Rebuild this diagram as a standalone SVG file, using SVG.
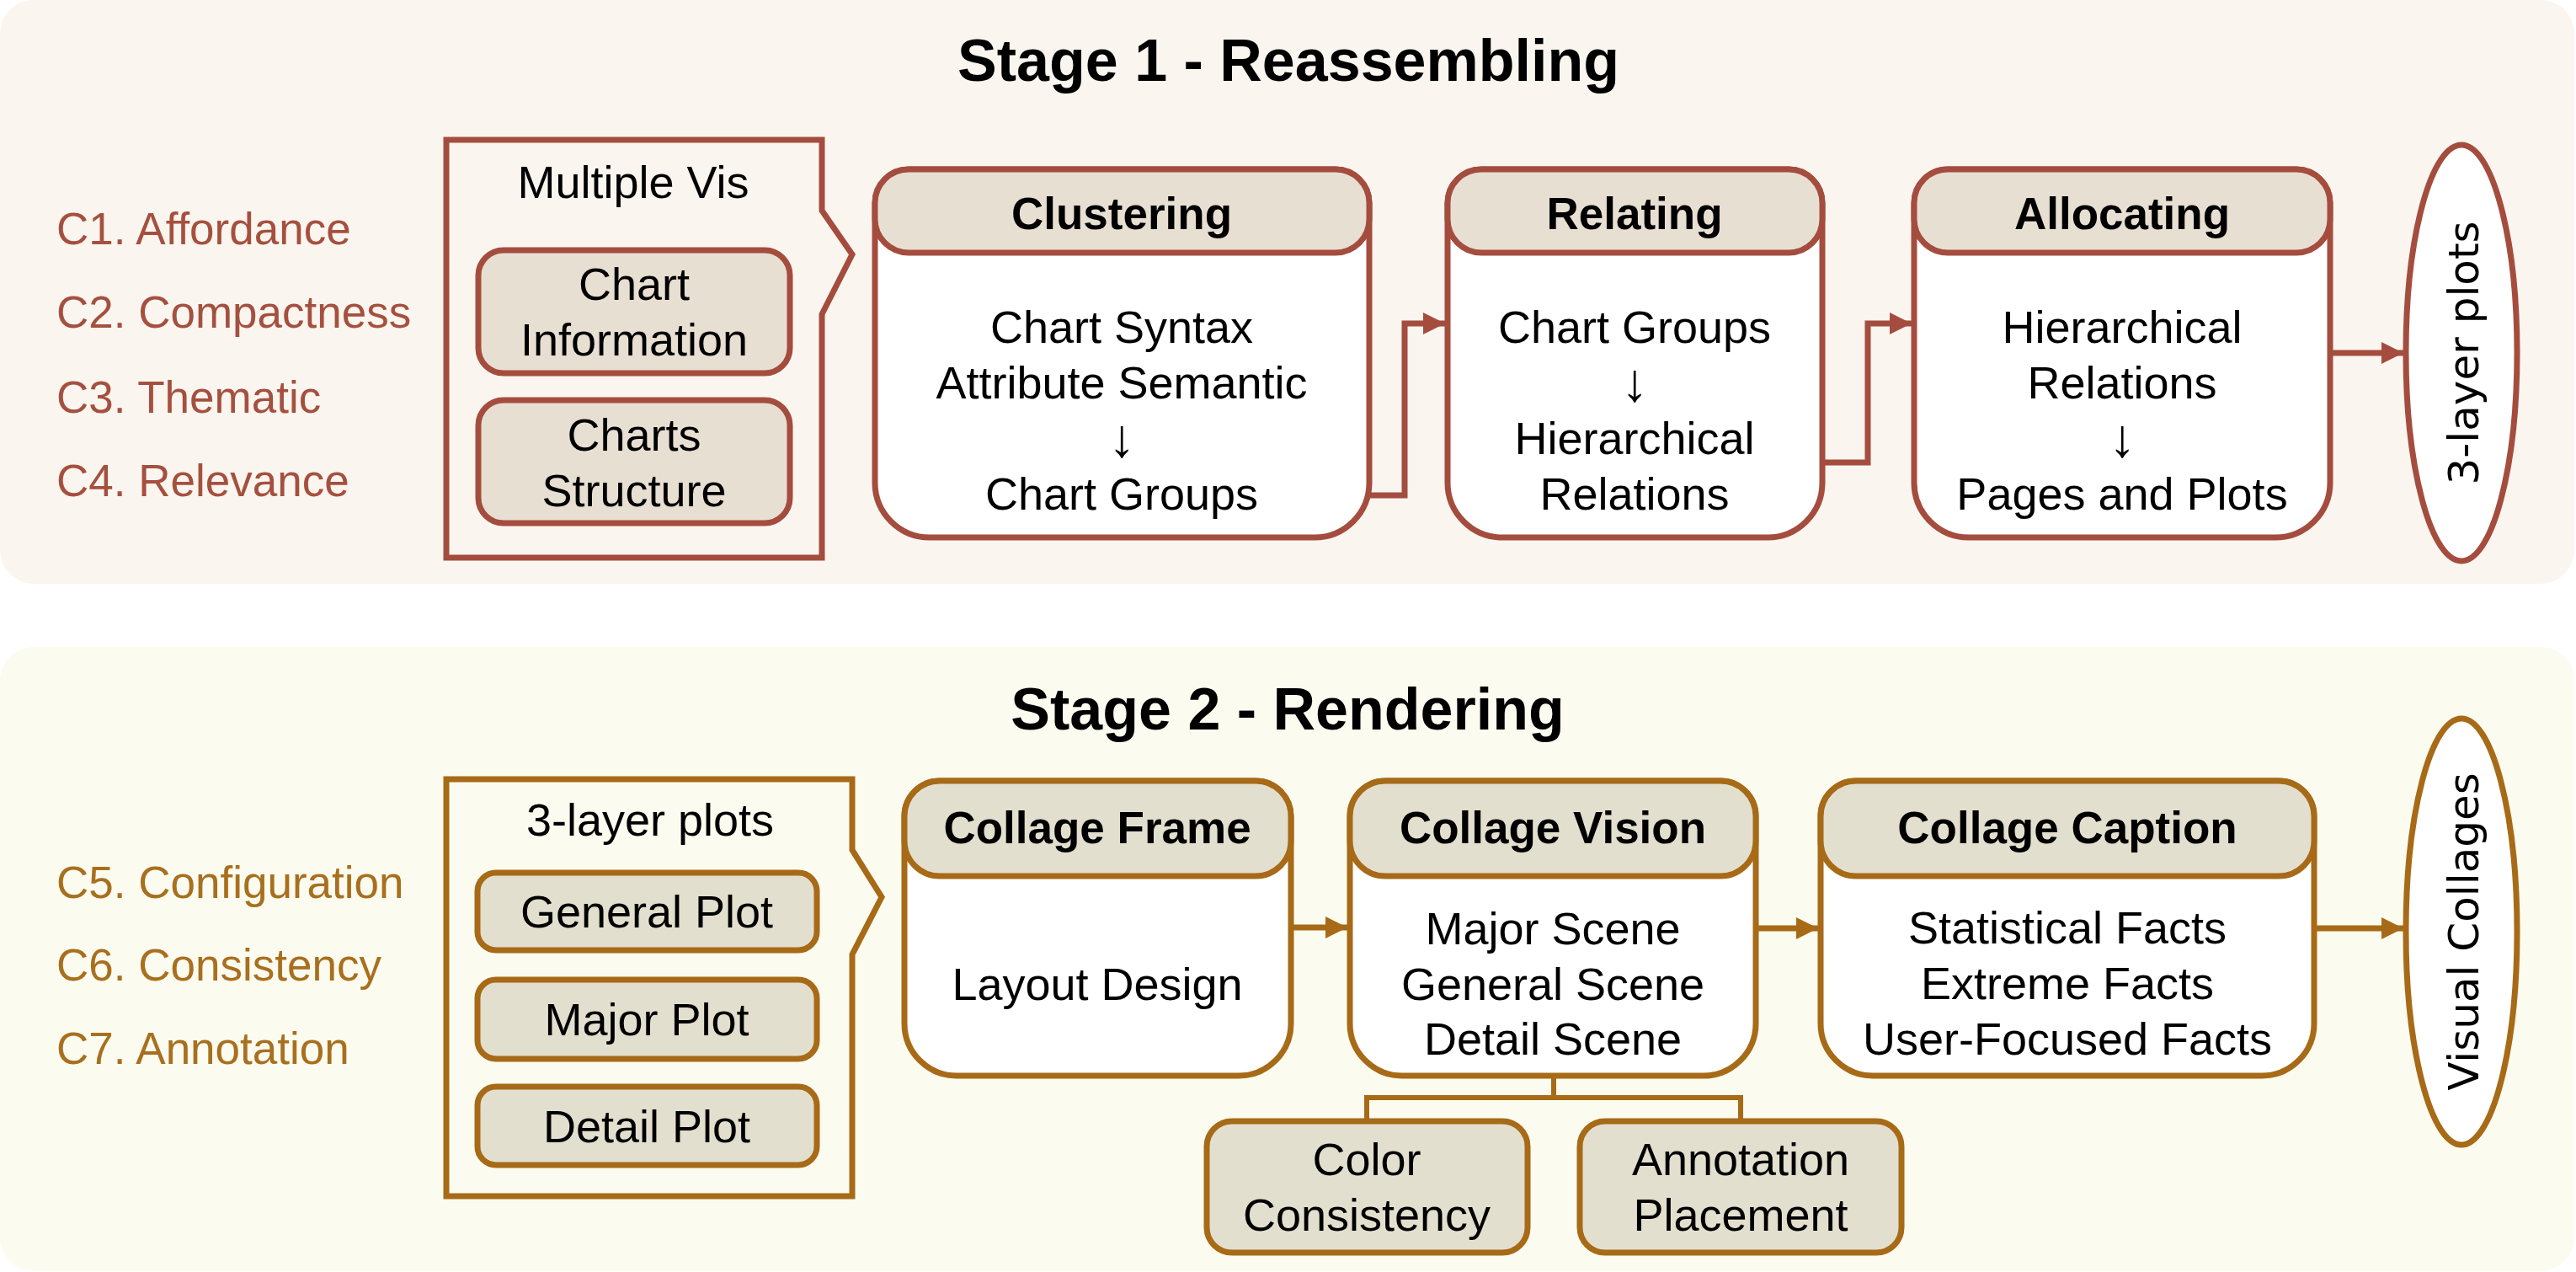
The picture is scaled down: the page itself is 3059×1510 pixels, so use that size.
<svg xmlns="http://www.w3.org/2000/svg" width="3059" height="1510" viewBox="0 0 3059 1510">
<style>
.t{font-family:"Liberation Sans",Arial,sans-serif;font-size:54px;fill:#000;text-anchor:middle}
.ar{font-family:"Liberation Sans",Arial,sans-serif;font-size:64px;fill:#000;text-anchor:middle}
.h{font-family:"Liberation Sans",Arial,sans-serif;font-size:53px;font-weight:bold;fill:#000;text-anchor:middle}
.ti{font-family:"Liberation Sans",Arial,sans-serif;font-size:70px;font-weight:bold;fill:#000;text-anchor:middle}
.c1{font-family:"Liberation Sans",Arial,sans-serif;font-size:53px;fill:#A5503F}
.c2{font-family:"Liberation Sans",Arial,sans-serif;font-size:53px;fill:#A86F1E}
.el{font-family:"DejaVu Sans",Verdana,sans-serif;font-size:50px;fill:#000;text-anchor:middle}
.s1{stroke:#A44D3E;stroke-width:7}
.s2{stroke:#A76A17;stroke-width:7}
.b1{fill:#fff}
.hd1{fill:#E8DFD3}
.hd2{fill:#E3DFCF}
.ln1{fill:none;stroke:#A44D3E;stroke-width:7}
.ln2{fill:none;stroke:#A76A17;stroke-width:7}
</style>
<defs>
<marker id="a1" markerUnits="userSpaceOnUse" markerWidth="26" markerHeight="26" refX="26" refY="13" orient="auto"><path d="M0,0 L26,13 L0,26 Z" fill="#A44D3E"/></marker>
<marker id="a2" markerUnits="userSpaceOnUse" markerWidth="26" markerHeight="26" refX="26" refY="13" orient="auto"><path d="M0,0 L26,13 L0,26 Z" fill="#A76A17"/></marker>
</defs>

<g id="panel1"><rect x="0" y="0" width="3057" height="693" rx="40" fill="#FAF5EF"/>
<text class="ti" x="1530" y="96">Stage 1 - Reassembling</text></g>
<g id="panel2"><rect x="0" y="768" width="3057" height="741" rx="40" fill="#FBFBEF"/>
<text class="ti" x="1529" y="866">Stage 2 - Rendering</text></g>

<g id="criteria1">
<text class="c1" x="67" y="290">C1. Affordance</text>
<text class="c1" x="67" y="389">C2. Compactness</text>
<text class="c1" x="67" y="490">C3. Thematic</text>
<text class="c1" x="67" y="589">C4. Relevance</text>
</g>
<g id="criteria2">
<text class="c2" x="67" y="1066">C5. Configuration</text>
<text class="c2" x="67" y="1164">C6. Consistency</text>
<text class="c2" x="67" y="1263">C7. Annotation</text>
</g>

<g id="multiple-vis">
<path d="M530,166 H976 V250 L1012,302 L976,373 V662 H530 Z" fill="none" class="s1"/>
<text class="t" x="752" y="235">Multiple Vis</text>
<rect x="568" y="297" width="370" height="146" rx="30" class="hd1 s1"/>
<text class="t" x="753" y="356">Chart</text><text class="t" x="753" y="422">Information</text>
<rect x="568" y="475" width="370" height="146" rx="30" class="hd1 s1"/>
<text class="t" x="753" y="535">Charts</text><text class="t" x="753" y="601">Structure</text>
</g>

<g id="clustering">
<path d="M1079,201 H1586 A40,40 0 0 1 1626,241 V573 A65,65 0 0 1 1561,638 H1104 A65,65 0 0 1 1039,573 V241 A40,40 0 0 1 1079,201 Z" class="b1 s1"/>
<rect x="1039" y="201" width="587" height="99" rx="40" class="hd1 s1"/>
<text class="h" x="1332" y="272">Clustering</text>
<text class="t" x="1332" y="407">Chart Syntax</text>
<text class="t" x="1332" y="473">Attribute Semantic</text>
<text class="ar" x="1332" y="542">↓</text>
<text class="t" x="1332" y="605">Chart Groups</text>
</g>
<g id="relating">
<path d="M1759,201 H2124 A40,40 0 0 1 2164,241 V573 A65,65 0 0 1 2099,638 H1784 A65,65 0 0 1 1719,573 V241 A40,40 0 0 1 1759,201 Z" class="b1 s1"/>
<rect x="1719" y="201" width="445" height="99" rx="40" class="hd1 s1"/>
<text class="h" x="1941" y="272">Relating</text>
<text class="t" x="1941" y="407">Chart Groups</text>
<text class="ar" x="1941" y="476">↓</text>
<text class="t" x="1941" y="539">Hierarchical</text>
<text class="t" x="1941" y="605">Relations</text>
</g>
<g id="allocating">
<path d="M2313,201 H2727 A40,40 0 0 1 2767,241 V573 A65,65 0 0 1 2702,638 H2338 A65,65 0 0 1 2273,573 V241 A40,40 0 0 1 2313,201 Z" class="b1 s1"/>
<rect x="2273" y="201" width="494" height="99" rx="40" class="hd1 s1"/>
<text class="h" x="2520" y="272">Allocating</text>
<text class="t" x="2520" y="407">Hierarchical</text>
<text class="t" x="2520" y="473">Relations</text>
<text class="ar" x="2520" y="542">↓</text>
<text class="t" x="2520" y="605">Pages and Plots</text>
</g>
<g id="three-layer-out">
<ellipse cx="2923" cy="419" rx="66" ry="247" class="b1 s1"/>
<text class="el" transform="translate(2943,419) rotate(-90)">3-layer plots</text>
</g>

<g id="three-layer-in">
<path d="M530,925 H1012 V1009 L1047,1065 L1012,1133 V1420 H530 Z" fill="none" class="s2"/>
<text class="t" x="772" y="992">3-layer plots</text>
<rect x="567" y="1036" width="403" height="92" rx="22" class="hd2 s2"/>
<text class="t" x="768" y="1101">General Plot</text>
<rect x="567" y="1163" width="403" height="94" rx="22" class="hd2 s2"/>
<text class="t" x="768" y="1229">Major Plot</text>
<rect x="567" y="1290" width="403" height="93" rx="22" class="hd2 s2"/>
<text class="t" x="768" y="1356">Detail Plot</text>
</g>

<g id="collage-frame">
<path d="M1116,927 H1491 A42,42 0 0 1 1533,969 V1215 A62,62 0 0 1 1471,1277 H1136 A62,62 0 0 1 1074,1215 V969 A42,42 0 0 1 1116,927 Z" class="b1 s2"/>
<rect x="1074" y="927" width="459" height="113" rx="42" class="hd2 s2"/>
<text class="h" x="1303" y="1001">Collage Frame</text>
<text class="t" x="1303" y="1187">Layout Design</text>
</g>
<g id="collage-vision">
<path d="M1645,927 H2043 A42,42 0 0 1 2085,969 V1215 A62,62 0 0 1 2023,1277 H1665 A62,62 0 0 1 1603,1215 V969 A42,42 0 0 1 1645,927 Z" class="b1 s2"/>
<rect x="1603" y="927" width="482" height="113" rx="42" class="hd2 s2"/>
<text class="h" x="1844" y="1001">Collage Vision</text>
<text class="t" x="1844" y="1121">Major Scene</text>
<text class="t" x="1844" y="1187">General Scene</text>
<text class="t" x="1844" y="1252">Detail Scene</text>
</g>
<g id="collage-caption">
<path d="M2204,927 H2706 A42,42 0 0 1 2748,969 V1215 A62,62 0 0 1 2686,1277 H2224 A62,62 0 0 1 2162,1215 V969 A42,42 0 0 1 2204,927 Z" class="b1 s2"/>
<rect x="2162" y="927" width="586" height="113" rx="42" class="hd2 s2"/>
<text class="h" x="2455" y="1001">Collage Caption</text>
<text class="t" x="2455" y="1120">Statistical Facts</text>
<text class="t" x="2455" y="1186">Extreme Facts</text>
<text class="t" x="2455" y="1252">User-Focused Facts</text>
</g>
<g id="color-consistency">
<rect x="1433" y="1331" width="381" height="156" rx="30" class="hd2 s2"/>
<text class="t" x="1623" y="1395">Color</text><text class="t" x="1623" y="1461">Consistency</text>
</g>
<g id="annotation-placement">
<rect x="1876" y="1331" width="382" height="156" rx="30" class="hd2 s2"/>
<text class="t" x="2067" y="1395">Annotation</text><text class="t" x="2067" y="1461">Placement</text>
</g>
<g id="visual-collages">
<ellipse cx="2923" cy="1106" rx="66" ry="253" class="b1 s2"/>
<text class="el" transform="translate(2943,1106) rotate(-90)">Visual Collages</text>
</g>

<g id="connectors">
<path d="M1626,588 H1668 V384 H1716" class="ln1" marker-end="url(#a1)"/>
<path d="M2164,549 H2218 V384 H2270" class="ln1" marker-end="url(#a1)"/>
<path d="M2767,419 H2854" class="ln1" marker-end="url(#a1)"/>
<path d="M1533,1101 H1600" class="ln2" marker-end="url(#a2)"/>
<path d="M2085,1102 H2159" class="ln2" marker-end="url(#a2)"/>
<path d="M2748,1102 H2854" class="ln2" marker-end="url(#a2)"/>
<path d="M1845,1280 V1303 M1623,1303 H2067 M1623,1300 V1328 M2067,1300 V1328" fill="none" stroke="#A76A17" stroke-width="6"/>
</g>
</svg>
